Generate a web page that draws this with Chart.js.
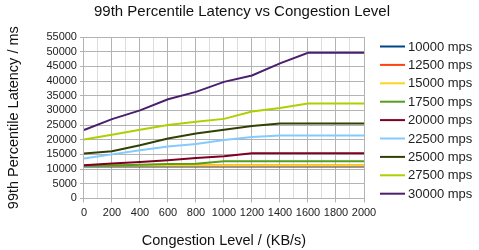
<!DOCTYPE html>
<html>
<head>
<meta charset="utf-8">
<script src="https://cdn.jsdelivr.net/npm/chart.js@4"></script>
<style>
  html, body { margin: 0; padding: 0; background: #fff; }
  #wrap { width: 479px; height: 250px; }
</style>
</head>
<body>
<div id="wrap"><canvas id="chart" width="479" height="250"></canvas></div>
<script>
// Chart data
const congestion = [0, 200, 400, 600, 800, 1000, 1200, 1400, 1600, 1800, 2000];
const rates = ['10000 mps', '12500 mps', '15000 mps', '17500 mps', '20000 mps', '22500 mps', '25000 mps', '27500 mps', '30000 mps'];
const lat10000 = [10900, 10900, 10900, 10900, 10900, 10900, 10900, 10900, 10900, 10900, 10900];
const lat12500 = [11200, 11200, 11200, 11200, 11200, 11200, 11200, 11200, 11200, 11200, 11200];
const lat15000 = [11200, 11200, 11200, 11200, 11200, 11200, 11200, 11200, 11200, 11200, 11200];
const lat17500 = [11100, 11250, 11500, 11700, 11800, 12700, 12700, 12700, 12700, 12700, 12700];
const lat20000 = [11300, 11900, 12400, 13000, 13800, 14400, 15400, 15400, 15400, 15400, 15400];
const lat22500 = [13600, 15000, 16400, 17700, 18500, 19900, 20900, 21400, 21400, 21400, 21400];
const lat25000 = [15300, 16100, 18100, 20400, 22100, 23400, 24700, 25500, 25500, 25500, 25500];
const lat27500 = [20100, 21700, 23400, 25000, 26100, 27100, 29600, 30800, 32300, 32300, 32300];
const lat30000 = [23300, 27000, 30000, 33800, 36300, 39700, 41900, 46000, 49600, 49600, 49600];
const yTicks = [0, 5000, 10000, 15000, 20000, 25000, 30000, 35000, 40000, 45000, 50000, 55000];

const series = [lat10000, lat12500, lat15000, lat17500, lat20000, lat22500, lat25000, lat27500, lat30000];
const colors = ['#004586', '#ff420e', '#ffd320', '#579d1c', '#7e0021', '#83caff', '#314004', '#aecf00', '#4b1f6f'];

const FONT = '"Liberation Sans", Arial, sans-serif';
Chart.defaults.font.family = FONT;
Chart.defaults.color = '#222';

const datasets = series.map((vals, i) => ({
    label: rates[i],
    data: vals.map((v, j) => ({ x: congestion[j], y: v })),
    borderColor: colors[i],
    backgroundColor: colors[i],
    borderWidth: 2,
    pointRadius: 0,
    tension: 0,
    fill: false,
    order: series.length - i
}));

// legend on the right, drawn by hand so it sits where the original one does
const sideLegend = {
    id: 'sideLegend',
    afterDraw(chart) {
        const c = chart.ctx;
        c.save();
        c.font = '13px ' + FONT;
        c.textBaseline = 'middle';
        c.textAlign = 'left';
        chart.data.datasets.forEach((ds, i) => {
            const y = 46.5 + i * 18.4;
            c.strokeStyle = ds.borderColor;
            c.lineWidth = 2;
            c.beginPath();
            c.moveTo(380, y);
            c.lineTo(405, y);
            c.stroke();
            c.fillStyle = '#222';
            c.fillText(ds.label, 408, y + 0.5);
        });
        c.restore();
    }
};

const ctx = document.getElementById('chart').getContext('2d');
new Chart(ctx, {
    type: 'line',
    data: { datasets: datasets },
    plugins: [sideLegend],
    options: {
        responsive: false,
        animation: false,
        layout: { padding: { left: 5, right: 0, top: 0, bottom: 0 } },
        scales: {
            x: {
                type: 'linear',
                min: 0,
                max: 2000,
                ticks: {
                    stepSize: 100,
                    autoSkip: false,
                    maxRotation: 0,
                    padding: 4,
                    font: { size: 11 },
                    color: '#222',
                    callback: v => (v % 200 === 0 ? String(v) : '')
                },
                grid: {
                    color: c => (c.tick && c.tick.value % 200 === 0 ? '#b3b3b3' : '#dddddd'),
                    tickLength: 4,
                    tickColor: c => (c.tick && c.tick.value % 200 === 0 ? '#b3b3b3' : 'rgba(0,0,0,0)')
                },
                border: { color: '#b3b3b3' },
                title: {
                    display: true,
                    text: 'Congestion Level / (KB/s)',
                    font: { size: 14.5 },
                    color: '#111',
                    padding: { top: 9, bottom: 0 }
                }
            },
            y: {
                min: 0,
                max: 55000,
                afterBuildTicks: axis => { axis.ticks = yTicks.map(v => ({ value: v })); },
                ticks: {
                    autoSkip: false,
                    padding: 3,
                    font: { size: 11 },
                    color: '#222',
                    callback: v => String(v)
                },
                grid: { color: '#b3b3b3', tickLength: 4 },
                border: { color: '#b3b3b3' },
                title: {
                    display: true,
                    text: '99th Percentile Latency / ms',
                    font: { size: 14.5 },
                    color: '#111',
                    padding: { top: 0, bottom: 21 }
                }
            },
            // empty axis on the right that only reserves room for the legend
            legendRoom: {
                type: 'linear',
                position: 'right',
                display: true,
                grid: { display: false },
                border: { display: false },
                ticks: { display: false },
                afterFit: axis => { axis.width = 115; }
            }
        },
        plugins: {
            title: {
                display: true,
                text: '99th Percentile Latency vs Congestion Level',
                font: { size: 15, weight: 'normal' },
                color: '#111',
                padding: { top: 3, bottom: 16 }
            },
            legend: { display: false },
            tooltip: { enabled: false }
        }
    }
});
</script>
</body>
</html>
